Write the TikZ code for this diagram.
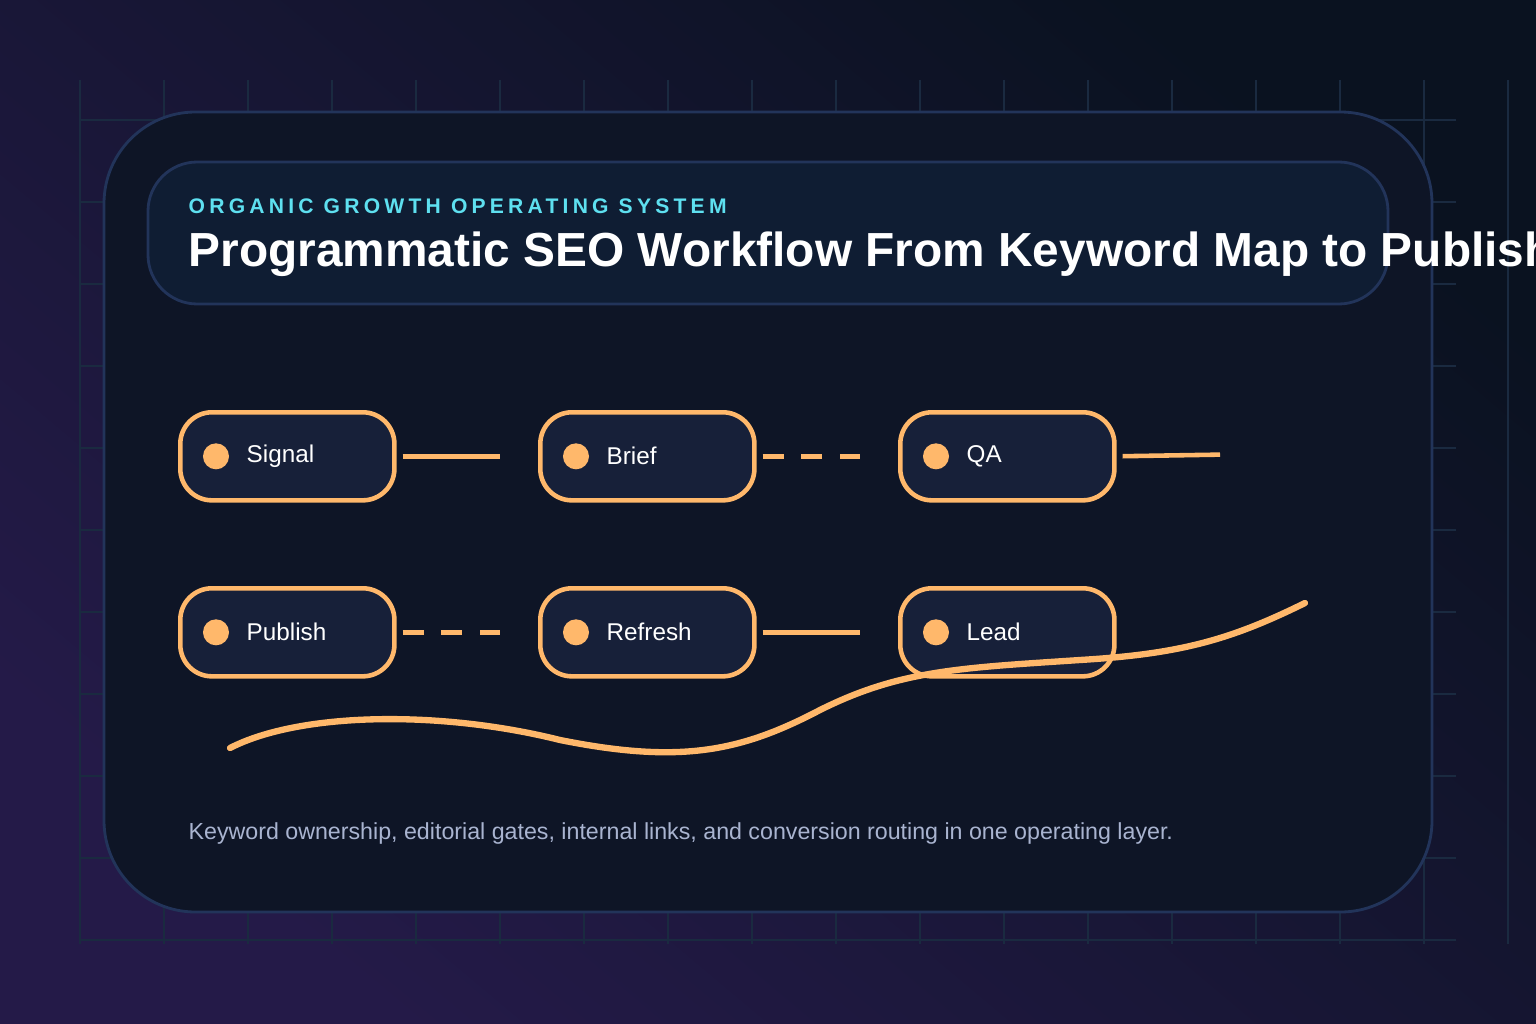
\documentclass[tikz,border=0pt]{standalone}
\usepackage{fontspec}
\setmainfont{Liberation Sans}
\usetikzlibrary{positioning}
\definecolor{bgA}{HTML}{0A1220}
\definecolor{bgB}{HTML}{13223A}
\definecolor{bgC}{HTML}{241A48}
\definecolor{cardfill}{HTML}{0E1526}
\definecolor{cardline}{HTML}{22345A}
\definecolor{headfill}{HTML}{0F1D33}
\definecolor{nodefill}{HTML}{172039}
\definecolor{accent}{HTML}{FFB86B}
\definecolor{cyanish}{HTML}{5EE0F0}
\definecolor{footer}{HTML}{A9B4D0}
\definecolor{gridc}{HTML}{1A2A40}
\tikzset{
  stage/.style={draw=accent, line width=1.3pt, fill=nodefill, rounded corners=9pt,
    minimum width=2.14cm, minimum height=0.88cm, anchor=north west},
  dot/.style={circle, fill=accent, minimum size=0.26cm, inner sep=0pt},
  lbl/.style={text=white, font=\fontsize{6.9}{8}\selectfont, anchor=west, inner sep=0pt},
  link/.style={accent, line width=1.3pt, shorten <=6*0.01cm, shorten >=38*0.01cm},
  dlink/.style={link, dash pattern=on 6pt off 5pt}
}
\begin{document}
\begin{tikzpicture}[x=0.01cm, y=-0.01cm]
  %Background
  \useasboundingbox (0,0) rectangle (1536,1024);
  \shade[top color=bgA, middle color=bgB, bottom color=bgC, shading angle=-40] (0,0) rectangle (1536,1024);
  %Grid
  \foreach \gx in {80,164,...,1508} \draw[gridc, line width=0.4pt] (\gx,80) -- (\gx,944);
  \foreach \gy in {120,202,...,940} \draw[gridc, line width=0.4pt] (80,\gy) -- (1456,\gy);
  %Card
  \draw[cardline, line width=0.8pt, fill=cardfill, rounded corners=26pt] (104,112) rectangle (1432,912);
  \draw[cardline, line width=0.8pt, fill=headfill, rounded corners=14pt] (148,162) rectangle (1388,304);
  \node[anchor=west, inner sep=0pt, text=cyanish, font=\bfseries\fontsize{6}{7}\selectfont\addfontfeature{LetterSpace=20}] (kicker) at (188,206) {ORGANIC GROWTH OPERATING SYSTEM};
  \node[anchor=west, inner sep=0pt, text=white, font=\bfseries\fontsize{13.6}{16}\selectfont] (title) at (188,254) {Programmatic SEO Workflow From Keyword Map to Publishe};
  %Stages
  \node[stage] (signal) at (178,410) {};
  \node[stage] (brief) at (538,410) {};
  \node[stage] (qa) at (898,410) {};
  \node[stage] (publish) at (178,586) {};
  \node[stage] (refresh) at (538,586) {};
  \node[stage] (lead) at (898,586) {};
  \foreach \n/\t in {signal/Signal, brief/Brief, qa/QA, publish/Publish, refresh/Refresh, lead/Lead}{
    \node[dot] (\n-dot) at ([xshift=38*0.01cm]\n.west) {};
    \node[lbl] (\n-txt) at ([xshift=68*0.01cm]\n.west) {\t};
  }
  %Links
  \coordinate (qa-end) at (1258,454);
  \draw[link] (signal.east) -- (brief.west);
  \draw[dlink] (brief.east) -- (qa.west);
  \draw[link] (qa.east) -- (qa-end);
  \draw[dlink] (publish.east) -- (refresh.west);
  \draw[link] (refresh.east) -- (lead.west);
  %Wave
  \draw[accent, line width=1.8pt, line cap=round] (230,748) .. controls (300,712) and (440,710) .. (560,740)
    .. controls (680,764) and (740,752) .. (820,710) .. controls (900,670) and (960,668) .. (1080,660)
    .. controls (1180,654) and (1230,640) .. (1305,603);
  %Footer
  \node[anchor=west, inner sep=0pt, text=footer, font=\fontsize{6.6}{8}\selectfont] (note) at (188,833) {Keyword ownership, editorial gates, internal links, and conversion routing in one operating layer.};
\end{tikzpicture}
\end{document}
